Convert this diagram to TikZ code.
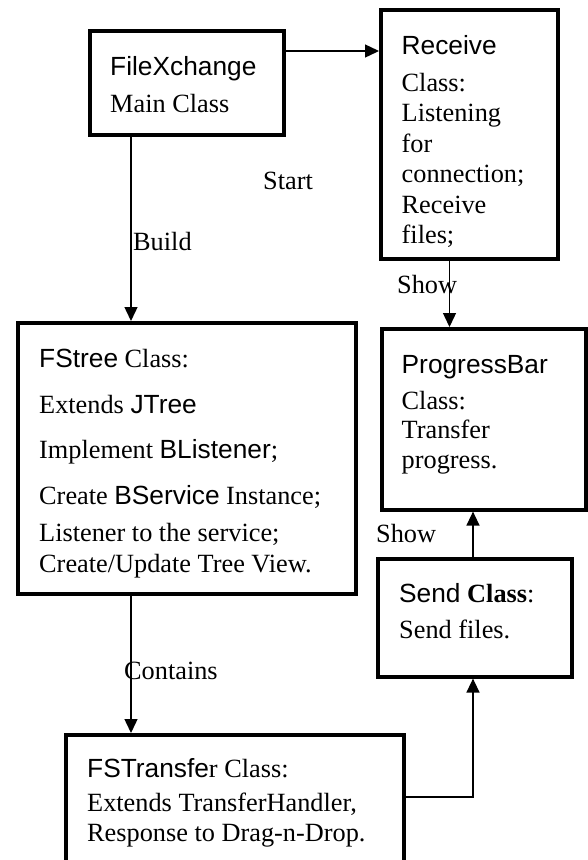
\documentclass[tikz,border=0pt]{standalone}
\usepackage{fontspec}
\setmainfont{Liberation Serif}
\newfontfamily\ar{Liberation Sans}
\usetikzlibrary{arrows.meta}
\tikzset{
  box/.style={draw, line width=3.6pt, inner sep=0pt, anchor=north west},
  arr/.style={line width=1.4pt, -{Triangle[length=14pt,width=13pt]}},
  txt/.style={anchor=base west, inner sep=0pt, font=\fontsize{26.3}{30}\selectfont},
  lbl/.style={txt}
}
\begin{document}
\begin{tikzpicture}[x=1pt,y=-1pt]
\useasboundingbox (0,0) rectangle (587,860);
% boxes
\node[box, minimum width=194pt, minimum height=104pt] (fx) at (88,29) {};
\node[box, minimum width=177pt, minimum height=249pt] (rc) at (379,8) {};
\node[box, minimum width=338pt, minimum height=271pt] (fst) at (16,321) {};
\node[box, minimum width=204pt, minimum height=181pt] (pb) at (380,327) {};
\node[box, minimum width=194pt, minimum height=118pt] (sd) at (376,557) {};
\node[box, minimum width=338pt, minimum height=160pt] (ft) at (64,733) {};
% texts
\node[txt] (fx1) at (110,75) {\ar FileXchange};
\node[txt] (fx2) at (110,112) {Main Class};
\node[txt] (rc1) at (401.5,54) {\ar Receive};
\node[txt] (rc2) at (401.5,91) {Class:};
\node[txt] (rc3) at (401.5,121.5) {Listening};
\node[txt] (rc4) at (401.5,152) {for};
\node[txt] (rc5) at (401.5,182.5) {connection;};
\node[txt] (rc6) at (401.5,213) {Receive};
\node[txt] (rc7) at (401.5,243.5) {files;};
\node[txt] (fs1) at (39,367) {{\ar FStree} Class:};
\node[txt] (fs2) at (39,413) {Extends {\ar JTree}};
\node[txt] (fs3) at (39,458) {Implement {\ar BListener};};
\node[txt] (fs4) at (39,504) {Create {\ar BService} Instance;};
\node[txt] (fs5) at (39,541) {Listener to the service;};
\node[txt] (fs6) at (39,572) {Create/Update Tree View.};
\node[txt] (pb1) at (401.5,373) {\ar ProgressBar};
\node[txt] (pb2) at (401.5,409) {Class:};
\node[txt] (pb3) at (401.5,438.5) {Transfer};
\node[txt] (pb4) at (401.5,468) {progress.};
\node[txt] (sd1) at (399,602) {{\ar Send} \textbf{Class}:};
\node[txt] (sd2) at (399,638) {Send files.};
\node[txt] (ft1) at (87,777) {{\ar FSTransfe}r Class:};
\node[txt] (ft2) at (87,811) {Extends TransferHandler,};
\node[txt] (ft3) at (87,841) {Response to Drag-n-Drop.};
% connectors
\coordinate (b0) at ([xshift=43pt]fx.south west);
\draw[arr] (b0) -- (b0 |- fst.north);
\coordinate (s0) at ([yshift=-22pt]fx.north east);
\draw[arr] (s0) -- (s0 -| rc.west);
\coordinate (r0) at ([xshift=70.5pt]rc.south west);
\draw[arr] (r0) -- (r0 |- pb.north);
\coordinate (c0) at ([xshift=115pt]fst.south west);
\draw[arr] (c0) -- (c0 |- ft.north);
\coordinate (p0) at ([xshift=97pt]sd.north west);
\draw[arr] (p0) -- (p0 |- pb.south);
\coordinate (t0) at ([yshift=-64pt]ft.north east);
\coordinate (t1) at ([xshift=97pt]sd.south west);
\draw[arr] (t0) -| (t1);
% labels
\node[lbl] (lstart) at (263,189) {Start};
\node[lbl] (lbuild) at (133,250) {Build};
\node[lbl] (lshow1) at (397,293) {Show};
\node[lbl] (lshow2) at (376,542) {Show};
\node[lbl] (lcont) at (124,679) {Contains};
\end{tikzpicture}
\end{document}
